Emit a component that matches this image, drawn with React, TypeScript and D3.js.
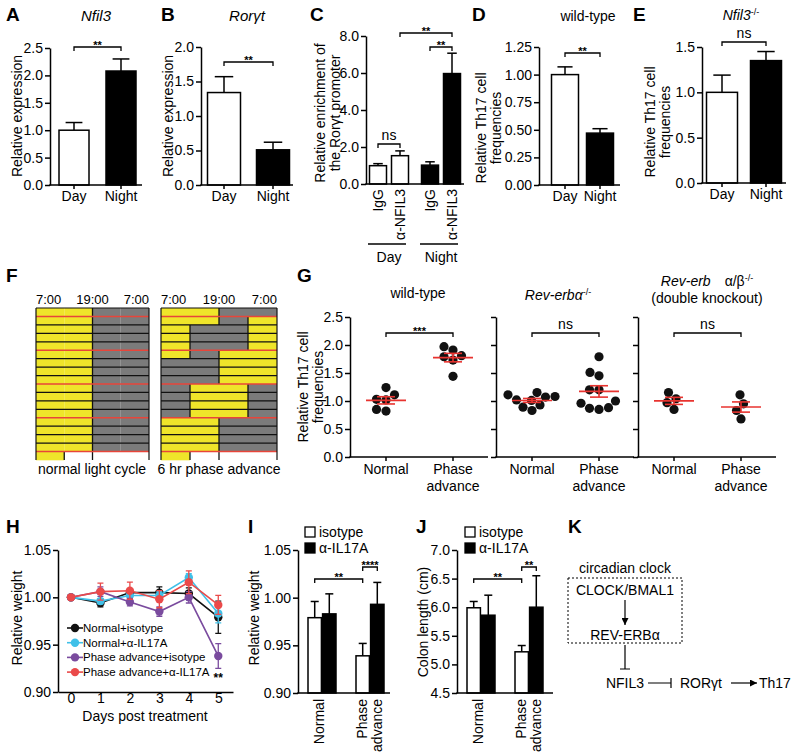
import React, { useEffect, useRef } from 'react';
import * as d3 from 'd3';

const FONT = '"Liberation Sans", Arial, Helvetica, sans-serif';

// A, B, D, E: day vs night
const dayNight = ['Day', 'Night'];
const nfil3Mean = [1.0, 2.08];
const nfil3Sem = [0.14, 0.22];
const ticksA = [0, 0.5, 1.0, 1.5, 2.0, 2.5];
const rorgtMean = [1.34, 0.51];
const rorgtSem = [0.23, 0.11];
const ticksB = [0, 0.5, 1.0, 1.5, 2.0];
const wtTh17Mean = [1.0, 0.47];
const wtTh17Sem = [0.07, 0.04];
const ticksD = [0, 0.25, 0.5, 0.75, 1.0, 1.25];
const koTh17Mean = [1.0, 1.35];
const koTh17Sem = [0.19, 0.1];
const ticksE = [0, 0.5, 1.0, 1.5];

// C: ChIP of the Rorγt promoter
const chipTimes = ['Day', 'Night'];
const chipAb = ['IgG', 'α-NFIL3'];
const chipDayMean = [0.99, 1.53];
const chipDaySem = [0.11, 0.26];
const chipNightMean = [1.02, 5.97];
const chipNightSem = [0.18, 1.1];
const ticksC = [0, 2, 4, 6, 8];

// F: light schedules (one string per day, quarters of 6 h from 7:00; L light, D dark)
const hourLabels = ['7:00', '19:00', '7:00'];
const normalCycle = [
  'LLDD', 'LLDD', 'LLDD', 'LLDD', 'LLDD', 'LLDD', 'LLDD', 'LLDD', 'LLDD',
  'LLDD', 'LLDD', 'LLDD', 'LLDD', 'LLDD', 'LLDD', 'LLDD', 'LLDD', 'L---',
];
const phaseAdvance = [
  'LLDD', 'LLDL', 'LDDL', 'LDDL', 'LDDL', 'LDLL', 'DDLL', 'DDLL', 'DDLL',
  'DLLD', 'DLLD', 'DLLD', 'DLLD', 'LLDD', 'LLDD', 'LLDD', 'LLDD', 'L---',
];
const weekBreaks = [1, 5, 9, 13, 17];

// G: Th17 frequencies
const gGroups = ['Normal', 'Phase advance'];
const wtNormal = [1.03, 1.24, 1.11, 1.02, 0.82, 0.85];
const wtPhase = [1.91, 1.97, 1.79, 1.73, 1.81, 1.44];
const revNormal = [1.11, 1.07, 1.02, 1.08, 1.15, 0.93, 0.83, 0.89, 1.01];
const revPhase = [1.79, 1.45, 1.51, 1.2, 1.2, 1.0, 0.87, 0.85, 0.88, 0.96];
const dkoNormal = [1.15, 1.04, 0.97, 0.85];
const dkoPhase = [1.11, 0.95, 0.83, 0.68];
const ticksG = [0, 0.5, 1.0, 1.5, 2.0, 2.5];

// H: weight over time
const days = [0, 1, 2, 3, 4, 5];
const hSeries = ['Normal+isotype', 'Normal+α-IL17A', 'Phase advance+isotype', 'Phase advance+α-IL17A'];
const normIsoW = [1.0, 0.994, 1.005, 1.005, 1.004, 0.979];
const normIsoSem = [0, 0.004, 0.003, 0.006, 0.006, 0.017];
const normAbW = [1.0, 0.996, 1.002, 1.002, 1.021, 0.983];
const normAbSem = [0, 0.003, 0.004, 0.004, 0.004, 0.01];
const phaseIsoW = [1.0, 1.006, 0.995, 0.985, 1.0, 0.938];
const phaseIsoSem = [0, 0.005, 0.004, 0.005, 0.006, 0.013];
const phaseAbW = [1.0, 1.006, 1.007, 0.998, 1.016, 0.992];
const phaseAbSem = [0, 0.009, 0.009, 0.009, 0.012, 0.01];
const ticksH = [0.9, 0.95, 1.0, 1.05];

// I, J
const treatGroups = ['Normal', 'Phase advance'];
const treatments = ['isotype', 'α-IL17A'];
const weightIso = [0.979, 0.939];
const weightIsoSem = [0.017, 0.013];
const weightAb = [0.983, 0.993];
const weightAbSem = [0.021, 0.023];
const colonIso = [5.99, 5.22];
const colonIsoSem = [0.11, 0.11];
const colonAb = [5.86, 6.0];
const colonAbSem = [0.35, 0.55];
const ticksJ = [4.5, 5.0, 5.5, 6.0, 6.5, 7.0];

const YELLOW = '#efe52a';
const GRAY = '#7b7b7b';
const RED = '#e8453a';

function text(g: any, x: number, y: number, s: string, o: any = {}) {
  return g.append('text')
    .attr('x', x).attr('y', y)
    .attr('font-family', FONT)
    .attr('font-size', o.size ?? 14)
    .attr('font-style', o.italic ? 'italic' : null)
    .attr('font-weight', o.bold ? 'bold' : null)
    .attr('text-anchor', o.anchor ?? 'middle')
    .attr('fill', o.fill ?? '#000')
    .text(s);
}

function vtext(g: any, cx: number, cy: number, s: string, anchor = 'middle', size = 14) {
  return g.append('text')
    .attr('transform', `translate(${cx},${cy}) rotate(-90)`)
    .attr('dy', '0.35em')
    .attr('font-family', FONT).attr('font-size', size)
    .attr('text-anchor', anchor)
    .text(s);
}

function letter(g: any, x: number, y: number, s: string) {
  text(g, x, y, s, { size: 19, bold: true, anchor: 'start' });
}

function yAxis(g: any, y: any, x: number, ticks: number[], fmt: any, labels = true) {
  const ax = g.append('g').attr('transform', `translate(${x},0)`)
    .call(d3.axisLeft(y).tickValues(ticks).tickFormat(labels ? fmt : () => '')
      .tickSize(5).tickSizeOuter(0).tickPadding(2));
  ax.select('.domain').attr('stroke', '#000').attr('stroke-width', 1.5);
  ax.selectAll('.tick line').attr('stroke', '#000').attr('stroke-width', 1.5);
  ax.selectAll('.tick text').attr('font-family', FONT).attr('font-size', 14).attr('fill', '#000');
}

function xBase(g: any, x0: number, x1: number, y0: number, tickXs: number[]) {
  g.append('line').attr('x1', x0 - 0.75).attr('x2', x1).attr('y1', y0).attr('y2', y0)
    .attr('stroke', '#000').attr('stroke-width', 1.5);
  tickXs.forEach(tx => g.append('line').attr('x1', tx).attr('x2', tx).attr('y1', y0).attr('y2', y0 + 4)
    .attr('stroke', '#000').attr('stroke-width', 1.5));
}

function bar(g: any, cx: number, w: number, y: any, v: number, s: number, fill: string) {
  const cap = Math.max(w * 0.28, 4);
  g.append('line').attr('x1', cx).attr('x2', cx).attr('y1', y(v)).attr('y2', y(v + s))
    .attr('stroke', '#000').attr('stroke-width', 1.5);
  g.append('line').attr('x1', cx - cap).attr('x2', cx + cap).attr('y1', y(v + s)).attr('y2', y(v + s))
    .attr('stroke', '#000').attr('stroke-width', 1.5);
  g.append('rect').attr('x', cx - w / 2).attr('y', y(v)).attr('width', w)
    .attr('height', y(y.domain()[0]) - y(v))
    .attr('fill', fill).attr('stroke', '#000').attr('stroke-width', 1.5);
}

function bracket(g: any, x1: number, x2: number, yb: number, label: string) {
  g.append('path').attr('d', `M${x1},${yb + 4}V${yb}H${x2}V${yb + 4}`)
    .attr('fill', 'none').attr('stroke', '#000').attr('stroke-width', 1.3);
  if (label === 'ns') text(g, (x1 + x2) / 2, yb - 4, label, { size: 14 });
  else text(g, (x1 + x2) / 2, yb + 2, label, { size: 11, bold: true });
}

function dayNightPanel(g: any, o: any) {
  const y = d3.scaleLinear().domain([0, o.max]).range([o.bottom, o.top]);
  const x = d3.scalePoint<string>().domain(dayNight).range([o.c0, o.c1]);
  yAxis(g, y, o.axisX, o.ticks, d3.format(o.fmt));
  dayNight.forEach((d, i) => bar(g, x(d)!, o.barW, y, o.mean[i], o.sem[i], i === 0 ? '#fff' : '#000'));
  xBase(g, o.axisX, o.axisEnd, o.bottom, dayNight.map(d => x(d)!));
  dayNight.forEach(d => text(g, x(d)!, o.bottom + 16, d));
  bracket(g, x('Day')!, x('Night')!, o.sigY, o.sig);
  o.yLabel.forEach((s: string, i: number) => vtext(g, o.yLabelX[i], o.yLabelY, s));
}

function actogram(g: any, rows: string[], x0: number, x1: number, top: number, bottom: number) {
  const q = d3.scaleLinear().domain([0, 4]).range([x0, x1]);
  const y = d3.scaleBand<number>().domain(d3.range(rows.length)).range([top, bottom]);
  const bw = y.bandwidth();
  const fillOf: any = { L: YELLOW, D: GRAY, '-': '#fff' };
  rows.forEach((r, i) => r.split('').forEach((c, j) => {
    g.append('rect').attr('x', q(j)).attr('y', y(i)).attr('width', q(j + 1) - q(j))
      .attr('height', bw + 0.3).attr('fill', fillOf[c]);
  }));
  rows.forEach((r, i) => {
    for (let j = 1; j < 4; j++) {
      if (r[j - 1] !== r[j] || (i === rows.length - 1 && j === 2)) {
        g.append('line').attr('x1', q(j)).attr('x2', q(j)).attr('y1', y(i)).attr('y2', y(i)! + bw)
          .attr('stroke', '#111').attr('stroke-width', 1.3);
      }
    }
  });
  rows.forEach((_, i) => {
    const red = weekBreaks.includes(i);
    g.append('line').attr('x1', x0).attr('x2', x1).attr('y1', y(i)).attr('y2', y(i))
      .attr('stroke', red ? RED : '#111').attr('stroke-width', red ? 1.5 : 1.2);
  });
  [x0, x1].forEach(xx => g.append('line').attr('x1', xx).attr('x2', xx).attr('y1', top).attr('y2', bottom)
    .attr('stroke', '#111').attr('stroke-width', 1.2));
  text(g, x0, top - 4, hourLabels[0], { anchor: 'start', size: 13 });
  text(g, q(2), top - 4, hourLabels[1], { size: 13 });
  text(g, x1, top - 4, hourLabels[2], { anchor: 'end', size: 13 });
}

function swarm(vals: number[], y: any, d: number) {
  const placed: [number, number][] = [];
  const out: number[] = new Array(vals.length).fill(0);
  const order = d3.range(vals.length).sort((a, b) => d3.ascending(vals[a], vals[b]));
  for (const i of order) {
    const py = y(vals[i]);
    let found = 0;
    outer: for (let s = 0; s < 80; s += 0.5) {
      for (const c of s === 0 ? [0] : [-s, s]) {
        if (placed.every(([px, qy]) => Math.hypot(px - c, qy - py) >= d)) { found = c; break outer; }
      }
    }
    placed.push([found, py]);
    out[i] = found;
  }
  return out;
}

function groupedBars(g: any, o: any) {
  const y = d3.scaleLinear().domain([o.min, o.max]).range([o.bottom, o.top]);
  const gx = d3.scalePoint<string>().domain(treatGroups).range([o.c0, o.c1]);
  const inner = d3.scaleBand<string>().domain(treatments).range([-14, 14]).paddingInner(0.08);
  const cx = (grp: string, t: string) => gx(grp)! + inner(t)! + inner.bandwidth() / 2;
  yAxis(g, y, o.axisX, o.ticks, d3.format(o.fmt));
  treatGroups.forEach((grp, i) => {
    bar(g, cx(grp, treatments[0]), inner.bandwidth(), y, o.iso[i], o.isoSem[i], '#fff');
    bar(g, cx(grp, treatments[1]), inner.bandwidth(), y, o.ab[i], o.abSem[i], '#000');
  });
  xBase(g, o.axisX, o.axisEnd, o.bottom, []);
  vtext(g, gx('Normal')! - 3, o.bottom + 6, 'Normal', 'end');
  vtext(g, gx('Phase advance')! - 8, o.bottom + 6, 'Phase', 'end');
  vtext(g, gx('Phase advance')! + 7, o.bottom + 6, 'advance', 'end');
  bracket(g, cx('Normal', treatments[0]), cx('Phase advance', treatments[0]), o.sig1Y, o.sig1);
  bracket(g, cx('Phase advance', treatments[0]), cx('Phase advance', treatments[1]), o.sig2Y, o.sig2);
  // legend
  treatments.forEach((t, i) => {
    g.append('rect').attr('x', o.legX).attr('y', 527 + i * 16).attr('width', 10).attr('height', 10)
      .attr('fill', i === 0 ? '#fff' : '#000').attr('stroke', '#000').attr('stroke-width', 1.3);
    text(g, o.legX + 14, 537 + i * 16, t, { anchor: 'start' });
  });
  vtext(g, o.yLabelX, o.yLabelY, o.yLabel);
}

export default function App() {
  const ref = useRef<SVGSVGElement>(null);

  useEffect(() => {
    const svg = d3.select(ref.current);
    svg.selectAll('*').remove();
    const g = svg.append('g');
    const defs = svg.append('defs');
    defs.append('marker').attr('id', 'arr').attr('viewBox', '0 0 8 8').attr('refX', 8).attr('refY', 4)
      .attr('markerWidth', 7).attr('markerHeight', 7).attr('markerUnits', 'userSpaceOnUse').attr('orient', 'auto')
      .append('path').attr('d', 'M0,0L8,4L0,8z').attr('fill', '#000');

    // ---------- A ----------
    letter(g, 6, 21, 'A');
    text(g, 96, 21, 'Nfil3', { italic: true, size: 15 });
    dayNightPanel(g, {
      axisX: 50, axisEnd: 142, top: 48, bottom: 185, max: 2.5, ticks: ticksA, fmt: '.1f',
      c0: 74, c1: 121, barW: 30, mean: nfil3Mean, sem: nfil3Sem, sigY: 47, sig: '**',
      yLabel: ['Relative expression'], yLabelX: [17], yLabelY: 116,
    });

    // ---------- B ----------
    letter(g, 161, 21, 'B');
    text(g, 247, 21, 'Rorγt', { italic: true, size: 15 });
    dayNightPanel(g, {
      axisX: 201, axisEnd: 293, top: 47, bottom: 185, max: 2.0, ticks: ticksB, fmt: '.1f',
      c0: 224, c1: 273, barW: 33, mean: rorgtMean, sem: rorgtSem, sigY: 62, sig: '**',
      yLabel: ['Relative expression'], yLabelX: [168], yLabelY: 116,
    });

    // ---------- C ----------
    letter(g, 310, 21, 'C');
    {
      const y = d3.scaleLinear().domain([0, 8]).range([184, 36]);
      const gx = d3.scalePoint<string>().domain(chipTimes).range([389, 441]);
      const inner = d3.scalePoint<string>().domain(chipAb).range([-11, 11]);
      yAxis(g, y, 366, ticksC, d3.format('.1f'));
      const means = [chipDayMean, chipNightMean];
      const sems = [chipDaySem, chipNightSem];
      chipTimes.forEach((t, i) => chipAb.forEach((a, j) => {
        bar(g, gx(t)! + inner(a)!, 17, y, means[i][j], sems[i][j], i === 0 ? '#fff' : '#000');
      }));
      xBase(g, 366, 464, 184, []);
      chipTimes.forEach(t => chipAb.forEach(a => vtext(g, gx(t)! + inner(a)!, 189, a, 'end')));
      chipTimes.forEach(t => {
        g.append('line').attr('x1', gx(t)! - 21).attr('x2', gx(t)! + 17).attr('y1', 244).attr('y2', 244)
          .attr('stroke', '#000').attr('stroke-width', 1.5);
        text(g, gx(t)!, 262, t);
      });
      bracket(g, gx('Day')! + inner('IgG')!, gx('Day')! + inner('α-NFIL3')!, 144, 'ns');
      bracket(g, gx('Day')! + inner('α-NFIL3')!, gx('Night')! + inner('α-NFIL3')!, 33, '**');
      bracket(g, gx('Night')! + inner('IgG')!, gx('Night')! + inner('α-NFIL3')!, 47, '**');
      vtext(g, 320, 113, 'Relative enrichment of');
      vtext(g, 335, 113, 'the Rorγt promoter');
    }

    // ---------- D ----------
    letter(g, 472, 21, 'D');
    text(g, 588, 21, 'wild-type');
    dayNightPanel(g, {
      axisX: 539, axisEnd: 620, top: 47, bottom: 185, max: 1.25, ticks: ticksD, fmt: '.2f',
      c0: 565, c1: 600, barW: 27, mean: wtTh17Mean, sem: wtTh17Sem, sigY: 53, sig: '**',
      yLabel: ['Relative Th17 cell', 'frequencies'], yLabelX: [481, 496], yLabelY: 128,
    });

    // ---------- E ----------
    letter(g, 633, 21, 'E');
    {
      const t = text(g, 741, 20, '', { size: 14 });
      t.append('tspan').attr('font-style', 'italic').text('Nfil3');
      t.append('tspan').attr('font-size', 9).attr('dy', -5).text('-/-');
    }
    dayNightPanel(g, {
      axisX: 702, axisEnd: 786, top: 47, bottom: 183, max: 1.5, ticks: ticksE, fmt: '.1f',
      c0: 722, c1: 766, barW: 31, mean: koTh17Mean, sem: koTh17Sem, sigY: 42, sig: 'ns',
      yLabel: ['Relative Th17 cell', 'frequencies'], yLabelX: [650, 665], yLabelY: 122,
    });

    // ---------- F ----------
    letter(g, 6, 282, 'F');
    actogram(g, normalCycle, 36, 149, 308, 460);
    actogram(g, phaseAdvance, 161, 277, 308, 460);
    text(g, 92, 474, 'normal light cycle');
    text(g, 219, 474, '6 hr phase advance');

    // ---------- G ----------
    letter(g, 297, 282, 'G');
    {
      const y = d3.scaleLinear().domain([0, 2.5]).range([457, 317]);
      const panels = [
        { x: 350, normal: wtNormal, phase: wtPhase, sig: '***' },
        { x: 496, normal: revNormal, phase: revPhase, sig: 'ns' },
        { x: 638, normal: dkoNormal, phase: dkoPhase, sig: 'ns' },
      ];
      panels.forEach((p, k) => {
        const x = d3.scalePoint<string>().domain(gGroups).range([p.x + 36, p.x + 103]);
        yAxis(g, y, p.x, ticksG, d3.format('.1f'), k === 0);
        xBase(g, p.x, p.x + 138, 457, gGroups.map(d => x(d)!));
        [p.normal, p.phase].forEach((vals, i) => {
          const cx = x(gGroups[i])!;
          const off = swarm(vals, y, 9.5);
          vals.forEach((v, j) => g.append('circle').attr('cx', cx + off[j]).attr('cy', y(v)).attr('r', 4.6).attr('fill', '#111'));
          const m = d3.mean(vals)!;
          const se = d3.deviation(vals)! / Math.sqrt(vals.length);
          const rl = (x1: number, x2: number, y1: number, y2: number) => g.append('line')
            .attr('x1', x1).attr('x2', x2).attr('y1', y1).attr('y2', y2).attr('stroke', '#e8332f').attr('stroke-width', 1.6);
          rl(cx - 20, cx + 20, y(m), y(m));
          rl(cx - 9, cx + 9, y(m + se), y(m + se));
          rl(cx - 9, cx + 9, y(m - se), y(m - se));
          rl(cx, cx, y(m + se), y(m - se));
        });
        text(g, x('Normal')!, 474, 'Normal');
        text(g, x('Phase advance')!, 474, 'Phase');
        text(g, x('Phase advance')!, 490.5, 'advance');
        bracket(g, x('Normal')!, x('Phase advance')!, 333, p.sig);
      });
      text(g, 418, 298, 'wild-type');
      const t2 = text(g, 558, 300, '');
      t2.append('tspan').attr('font-style', 'italic').text('Rev-erbα');
      t2.append('tspan').attr('font-size', 9).attr('dy', -5).text('-/-');
      const t3 = text(g, 707, 285.5, '');
      t3.append('tspan').attr('font-style', 'italic').text('Rev-erb');
      t3.append('tspan').attr('dx', 14).text('α/β');
      t3.append('tspan').attr('font-size', 9).attr('dy', -5).text('-/-');
      text(g, 707, 302.5, '(double knockout)');
      vtext(g, 303, 387, 'Relative Th17 cell');
      vtext(g, 318, 387, 'frequencies');
    }

    // ---------- H ----------
    letter(g, 6, 533, 'H');
    {
      const hx = d3.scaleLinear().domain([-0.44, 5.5]).range([58, 233]);
      const hy = d3.scaleLinear().domain([0.9, 1.05]).range([692, 550]);
      yAxis(g, hy, 58, ticksH, d3.format('.2f'));
      const xa = g.append('g').attr('transform', 'translate(0,692)')
        .call(d3.axisBottom(hx).tickValues(days).tickFormat(d3.format('d')).tickSize(2).tickSizeOuter(0).tickPadding(0));
      xa.select('.domain').attr('stroke', '#000').attr('stroke-width', 1.5);
      xa.selectAll('.tick line').attr('stroke', '#000').attr('stroke-width', 1.5);
      xa.selectAll('.tick text').attr('font-family', FONT).attr('font-size', 14).attr('fill', '#000').attr('dy', '0.62em');
      text(g, 145, 721, 'Days post treatment');
      vtext(g, 17, 618, 'Relative weight');
      const series = [
        { vals: normIsoW, sem: normIsoSem, color: '#111' },
        { vals: normAbW, sem: normAbSem, color: '#40c0e8' },
        { vals: phaseIsoW, sem: phaseIsoSem, color: '#7a4b9e' },
        { vals: phaseAbW, sem: phaseAbSem, color: '#ea4a4a' },
      ];
      const line = d3.line<number>().x((_, i) => hx(days[i])).y(v => hy(v));
      series.forEach(s => {
        g.append('path').attr('d', line(s.vals)).attr('fill', 'none').attr('stroke', s.color).attr('stroke-width', 1.6);
        s.vals.forEach((v, i) => {
          if (s.sem[i] > 0) {
            const xx = hx(days[i]);
            g.append('path').attr('d', `M${xx},${hy(v - s.sem[i])}V${hy(v + s.sem[i])}M${xx - 3},${hy(v + s.sem[i])}H${xx + 3}M${xx - 3},${hy(v - s.sem[i])}H${xx + 3}`)
              .attr('stroke', s.color).attr('stroke-width', 1.3).attr('fill', 'none');
          }
          g.append('circle').attr('cx', hx(days[i])).attr('cy', hy(v)).attr('r', 4.2).attr('fill', s.color);
        });
      });
      series.forEach((s, i) => {
        const yy = 628 + i * 14.7;
        g.append('line').attr('x1', 67).attr('x2', 83).attr('y1', yy).attr('y2', yy).attr('stroke', s.color).attr('stroke-width', 1.6);
        g.append('circle').attr('cx', 75).attr('cy', yy).attr('r', 4.2).attr('fill', s.color);
        text(g, 83, yy + 4, hSeries[i], { anchor: 'start', size: 11.5 });
      });
      text(g, hx(5), 682, '**', { size: 12, bold: true });
    }

    // ---------- I ----------
    letter(g, 248, 533, 'I');
    groupedBars(g, {
      min: 0.9, max: 1.05, top: 550, bottom: 693, axisX: 298, axisEnd: 390, ticks: ticksH, fmt: '.2f',
      c0: 322, c1: 370, iso: weightIso, isoSem: weightIsoSem, ab: weightAb, abSem: weightAbSem,
      sig1: '**', sig1Y: 579, sig2: '****', sig2Y: 567, legX: 305,
      yLabel: 'Relative weight', yLabelX: 254, yLabelY: 618,
    });

    // ---------- J ----------
    letter(g, 416, 533, 'J');
    groupedBars(g, {
      min: 4.5, max: 7.0, top: 550, bottom: 693, axisX: 457, axisEnd: 553, ticks: ticksJ, fmt: '.1f',
      c0: 481, c1: 529, iso: colonIso, isoSem: colonIsoSem, ab: colonAb, abSem: colonAbSem,
      sig1: '**', sig1Y: 579, sig2: '**', sig2Y: 567, legX: 465,
      yLabel: 'Colon length (cm)', yLabelX: 423, yLabelY: 622,
    });

    // ---------- K ----------
    letter(g, 568, 533, 'K');
    {
      text(g, 625, 573, 'circadian clock');
      g.append('rect').attr('x', 568).attr('y', 578).attr('width', 114).attr('height', 65)
        .attr('fill', 'none').attr('stroke', '#000').attr('stroke-width', 1).attr('stroke-dasharray', '2,2');
      text(g, 625, 595, 'CLOCK/BMAL1');
      g.append('line').attr('x1', 625).attr('x2', 625).attr('y1', 600).attr('y2', 625)
        .attr('stroke', '#000').attr('stroke-width', 1.2).attr('marker-end', 'url(#arr)');
      text(g, 625, 640, 'REV-ERBα');
      g.append('path').attr('d', 'M625,645V669M620,669H630').attr('stroke', '#000').attr('stroke-width', 1.2).attr('fill', 'none');
      text(g, 625, 688, 'NFIL3');
      g.append('path').attr('d', 'M648,683H671M671,678V688').attr('stroke', '#000').attr('stroke-width', 1.2).attr('fill', 'none');
      text(g, 680, 688, 'RORγt', { anchor: 'start' });
      g.append('line').attr('x1', 731).attr('x2', 757).attr('y1', 683).attr('y2', 683)
        .attr('stroke', '#000').attr('stroke-width', 1.2).attr('marker-end', 'url(#arr)');
      text(g, 759, 688, 'Th17', { anchor: 'start' });
    }
  }, []);

  return (
    <svg ref={ref} width={800} height={755}
      style={{ position: 'absolute', left: 0, top: 0, background: '#fff' }} />
  );
}
